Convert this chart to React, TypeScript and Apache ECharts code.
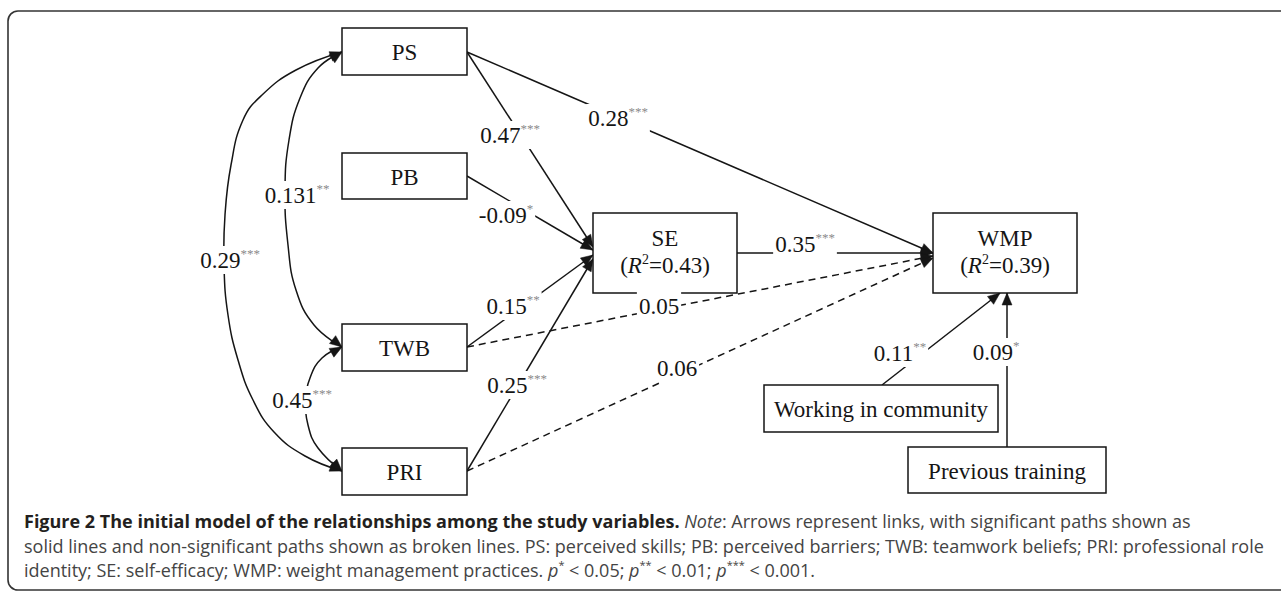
import React, { useEffect, useRef } from "react";
import * as echarts from "echarts";

// ---------------- data ----------------
const variables = ["PS", "PB", "TWB", "PRI", "SE", "WMP", "Working in community", "Previous training"];
const r2Names = ["SE", "WMP"];
const r2Values = ["0.43", "0.39"];

const pathFrom = ["PS", "PB", "TWB", "PRI", "PS", "SE", "TWB", "PRI", "Working in community", "Previous training"];
const pathTo = ["SE", "SE", "SE", "SE", "WMP", "WMP", "WMP", "WMP", "WMP", "WMP"];
const pathCoef = ["0.47", "-0.09", "0.15", "0.25", "0.28", "0.35", "0.05", "0.06", "0.11", "0.09"];
const pathStars = ["***", "*", "**", "***", "***", "***", "", "", "**", "*"];
const pathSignificant = [true, true, true, true, true, true, false, false, true, true];

const covA = ["PS", "PS", "TWB"];
const covB = ["TWB", "PRI", "PRI"];
const covCoef = ["0.131", "0.29", "0.45"];
const covStars = ["**", "***", "***"];

const captionTitle = "Figure 2 The initial model of the relationships among the study variables.";
const captionLine1 = ": Arrows represent links, with significant paths shown as";
const captionLine2 =
  "solid lines and non-significant paths shown as broken lines. PS: perceived skills; PB: perceived barriers; TWB: teamwork beliefs; PRI: professional role";
const captionLine3 = "identity; SE: self-efficacy; WMP: weight management practices. ";
const pThresholds = ["0.05", "0.01", "0.001"];
const pStars = ["*", "**", "***"];

// ---------------- layout ----------------
const BOX: Record<string, [number, number, number, number]> = {
  PS: [342, 28, 125, 47],
  PB: [342, 153, 125, 46],
  TWB: [342, 324, 125, 47],
  PRI: [342, 448, 125, 47],
  SE: [593, 213, 144, 80],
  WMP: [933, 213, 144, 80],
  "Working in community": [764, 385, 234, 47],
  "Previous training": [908, 447, 198, 46],
};

// start / end anchors for each path
const PATH_START: [number, number][] = [
  [467, 52], [467, 176], [467, 347], [467, 471], [467, 52], [737, 253], [467, 347], [467, 471], [882, 385], [1007, 447],
];
const PATH_END: [number, number][] = [
  [593, 247], [593, 250], [593, 255], [593, 259], [933, 253], [933, 253], [933, 256], [933, 258], [1000, 293], [1007, 293],
];
const PATH_LABEL: [number, number][] = [
  [510, 135], [506, 215], [513, 306], [517, 385], [618, 118], [805, 244], [659, 306], [677, 368], [900, 353], [996, 352],
];

const COV_POINTS: [number, number][][] = [
  [[342, 52], [318, 68], [300, 98], [289, 140], [285, 190], [288, 245], [296, 290], [314, 325], [342, 347]],
  [[342, 52], [296, 70], [262, 95], [243, 120], [231, 165], [225, 215], [224, 265], [228, 315], [238, 360], [253, 400], [274, 432], [305, 456], [342, 471]],
  [[342, 347], [322, 358], [310, 378], [306, 400], [308, 425], [318, 448], [342, 471]],
];
const COV_LABEL: [number, number][] = [[297, 195], [230, 260], [302, 400]];

const SERIF = "'Liberation Serif', 'Times New Roman', serif";
const SANS = "'Open Sans', 'Noto Sans', sans-serif";
const INK = "#151515";
const CAP = 18;

function arrowHead(tip: [number, number], from: [number, number], L = 12, W = 5) {
  const dx = tip[0] - from[0];
  const dy = tip[1] - from[1];
  const len = Math.hypot(dx, dy);
  const ux = dx / len;
  const uy = dy / len;
  const bx = tip[0] - ux * L;
  const by = tip[1] - uy * L;
  return {
    type: "polygon",
    z: 5,
    shape: { points: [tip, [bx - uy * W, by + ux * W], [bx + uy * W, by - ux * W]] },
    style: { fill: INK, stroke: INK, lineWidth: 0.5 },
  };
}

const labelRich = {
  n: { fontFamily: SERIF, fontSize: 23, fill: INK, lineHeight: 26 },
  s: { fontFamily: SERIF, fontSize: 13, fill: "#8a8a8a", verticalAlign: "top", lineHeight: 13 },
};

function coefLabel(pos: [number, number], coef: string, stars: string) {
  const text = stars ? `{n|${coef}}{s|${stars}}` : `{n|${coef}}`;
  return {
    type: "text",
    z: 8,
    x: pos[0],
    y: pos[1],
    style: {
      text,
      rich: labelRich,
      align: "center",
      verticalAlign: "middle",
      backgroundColor: "#fff",
      padding: [1, 2, 1, 2],
    },
  };
}

function buildElements() {
  const els: any[] = [];

  // frame (open on the right side)
  const frameStyle = { stroke: "#333", lineWidth: 1.6, fill: "none" };
  els.push({ type: "line", z: 1, shape: { x1: 18, y1: 11, x2: 1300, y2: 11 }, style: frameStyle });
  els.push({ type: "line", z: 1, shape: { x1: 8, y1: 21, x2: 8, y2: 580 }, style: frameStyle });
  els.push({ type: "line", z: 1, shape: { x1: 18, y1: 590, x2: 1300, y2: 590 }, style: frameStyle });
  els.push({
    type: "arc",
    z: 1,
    shape: { cx: 18, cy: 21, r: 10, startAngle: Math.PI, endAngle: Math.PI * 1.5 },
    style: frameStyle,
  });
  els.push({
    type: "arc",
    z: 1,
    shape: { cx: 18, cy: 580, r: 10, startAngle: Math.PI * 0.5, endAngle: Math.PI },
    style: frameStyle,
  });

  // covariance arcs
  covA.forEach((a, i) => {
    const pts = COV_POINTS[i];
    els.push({
      type: "polyline",
      z: 3,
      shape: { points: pts, smooth: 0.45 },
      style: { stroke: INK, lineWidth: 1.5, fill: "none" },
    });
    els.push(arrowHead(pts[0], pts[1]));
    els.push(arrowHead(pts[pts.length - 1], pts[pts.length - 2]));
    els.push(coefLabel(COV_LABEL[i], covCoef[i], covStars[i]));
  });

  // directed paths
  pathFrom.forEach((f, i) => {
    const s = PATH_START[i];
    const e = PATH_END[i];
    els.push({
      type: "line",
      z: 3,
      shape: { x1: s[0], y1: s[1], x2: e[0], y2: e[1] },
      style: {
        stroke: INK,
        lineWidth: 1.5,
        lineDash: pathSignificant[i] ? null : [7, 5],
      },
    });
    els.push(arrowHead(e, s));
    els.push(coefLabel(PATH_LABEL[i], pathCoef[i], pathStars[i]));
  });

  // boxes
  variables.forEach((v) => {
    const [x, y, w, h] = BOX[v];
    els.push({
      type: "rect",
      z: 6,
      shape: { x, y, width: w, height: h },
      style: { fill: "#fff", stroke: INK, lineWidth: 1.5 },
    });
    const r2i = r2Names.indexOf(v);
    if (r2i < 0) {
      els.push({
        type: "text",
        z: 7,
        x: x + w / 2,
        y: y + h / 2 + 1,
        style: { text: v, fontFamily: SERIF, fontSize: 23, fill: INK, align: "center", verticalAlign: "middle" },
      });
    } else {
      els.push({
        type: "text",
        z: 7,
        x: x + w / 2,
        y: y + 25,
        style: { text: v, fontFamily: SERIF, fontSize: 23, fill: INK, align: "center", verticalAlign: "middle" },
      });
      els.push({
        type: "text",
        z: 7,
        x: x + w / 2,
        y: y + 52,
        style: {
          text: `{n|(}{i|R}{p|2}{n|=${r2Values[r2i]})}`,
          align: "center",
          verticalAlign: "middle",
          rich: {
            n: { fontFamily: SERIF, fontSize: 23, fill: INK, lineHeight: 26 },
            i: { fontFamily: SERIF, fontSize: 23, fontStyle: "italic", fill: INK, lineHeight: 26 },
            p: { fontFamily: SERIF, fontSize: 14, fill: INK, verticalAlign: "top", lineHeight: 14 },
          },
        },
      });
    }
  });

  // caption
  const capRich = {
    b: { fontFamily: SANS, fontSize: CAP, fontWeight: "bold", fill: "#231f20", lineHeight: 22 },
    i: { fontFamily: SANS, fontSize: CAP, fontStyle: "italic", fill: "#444", lineHeight: 22 },
    r: { fontFamily: SANS, fontSize: CAP, fill: "#444", lineHeight: 22 },
    s: { fontFamily: SANS, fontSize: 11, fill: "#444", verticalAlign: "top", lineHeight: 11 },
  };
  els.push({
    type: "text",
    z: 9,
    x: 24,
    y: 521,
    style: {
      text: `{b|${captionTitle}}{r| }{i|Note}{r|${captionLine1}}`,
      rich: capRich,
      align: "left",
      verticalAlign: "middle",
    },
  });
  els.push({
    type: "text",
    z: 9,
    x: 24,
    y: 546,
    style: { text: `{r|${captionLine2}}`, rich: capRich, align: "left", verticalAlign: "middle" },
  });
  const pParts = pThresholds
    .map((t, k) => `{i|p}{s|${pStars[k]}}{r| < ${t}${k < pThresholds.length - 1 ? "; " : "."}}`)
    .join("");
  els.push({
    type: "text",
    z: 9,
    x: 24,
    y: 570,
    style: { text: `{r|${captionLine3}}${pParts}`, rich: capRich, align: "left", verticalAlign: "middle" },
  });

  return els;
}

export default function App() {
  const ref = useRef<HTMLDivElement>(null);
  useEffect(() => {
    if (!ref.current) return;
    const chart = echarts.init(ref.current, undefined, { renderer: "svg" });
    chart.setOption({
      animation: false,
      backgroundColor: "#fff",
      graphic: { elements: buildElements() },
    });
    return () => chart.dispose();
  }, []);
  return (
    <div
      ref={ref}
      style={{ position: "fixed", left: 0, top: 0, width: 1281, height: 592, background: "#fff" }}
    />
  );
}
